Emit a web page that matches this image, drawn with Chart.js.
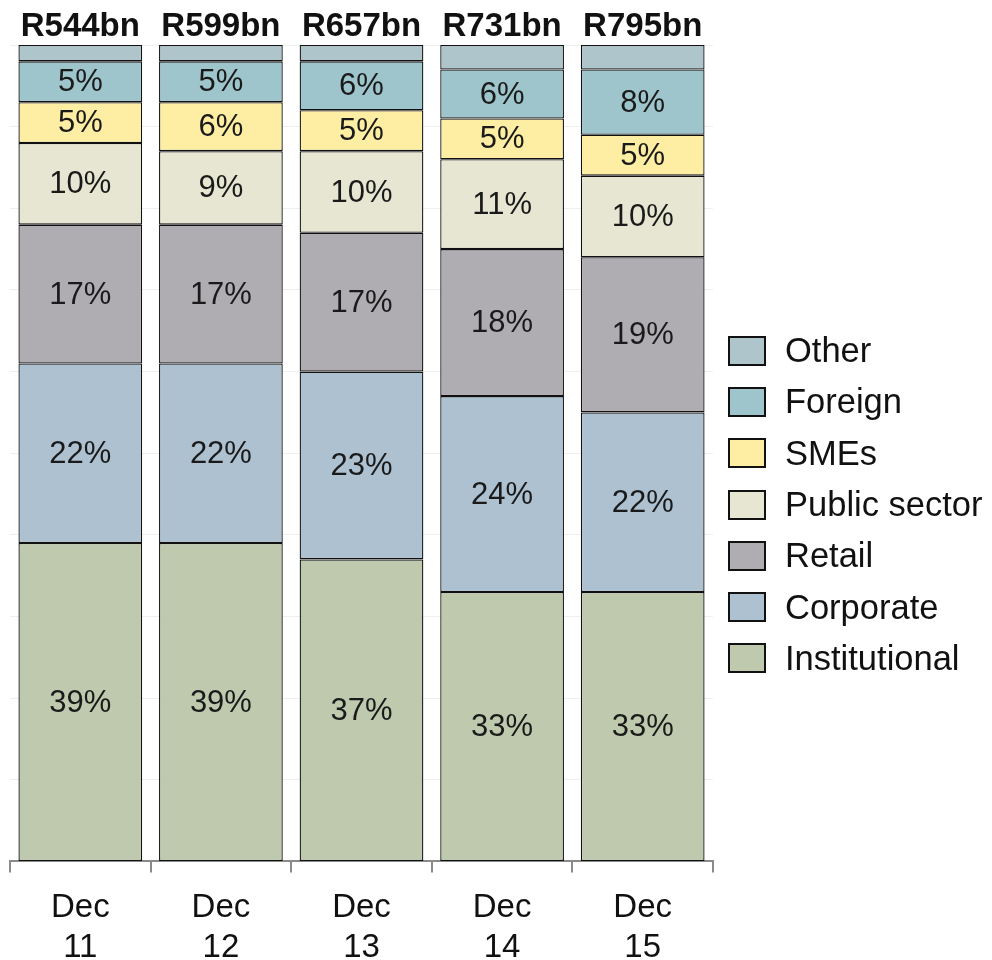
<!DOCTYPE html>
<html>
<head>
<meta charset="utf-8">
<script src="https://cdn.jsdelivr.net/npm/chart.js@4/dist/chart.umd.min.js"></script>
<style>
  html, body { margin: 0; padding: 0; background: #fff; }
  #wrap { position: relative; width: 992px; height: 960px; overflow: hidden; }
  #legend { position: absolute; left: 728px; top: 325px; font-family: "Liberation Sans", Arial, sans-serif; font-size: 34.5px; color: #111; }
  .item { display: flex; align-items: center; height: 51.3px; }
  .box { width: 34px; height: 26px; border: 2px solid #111; margin-right: 19px; }
</style>
</head>
<body>
<div id="wrap">
  <canvas id="c" width="992" height="960"></canvas>
  <div id="legend"></div>
</div>
<script>
const categories = [["Dec", "11"], ["Dec", "12"], ["Dec", "13"], ["Dec", "14"], ["Dec", "15"]];
const totals = ["R544bn", "R599bn", "R657bn", "R731bn", "R795bn"];
const institutional = [39, 39, 37, 33, 33];
const corporate = [22, 22, 23, 24, 22];
const retail = [17, 17, 17, 18, 19];
const publicSector = [10, 9, 10, 11, 10];
const smes = [5, 6, 5, 5, 5];
const foreign = [5, 5, 6, 6, 8];
const other = [2, 2, 2, 3, 3];

const seriesNames = ["Institutional", "Corporate", "Retail", "Public sector", "SMEs", "Foreign", "Other"];
const seriesData = [institutional, corporate, retail, publicSector, smes, foreign, other];
const seriesColors = ["#bfc9ae", "#adc1d0", "#afacb2", "#e6e6d2", "#fdeea4", "#9ec5cc", "#adc5cb"];
const labelled = [true, true, true, true, true, true, false];

const FONT = '"Liberation Sans", Arial, Helvetica, sans-serif';

const datasets = seriesNames.map((n, i) => ({
  label: n,
  data: seriesData[i],
  backgroundColor: seriesColors[i],
  borderColor: "#111",
  borderWidth: 1.3,
  borderSkipped: false,
  barPercentage: 0.88,
  categoryPercentage: 1.0,
  xAxisID: "x",
  showValue: labelled[i]
}));

const valueLabels = {
  id: "valueLabels",
  afterDatasetsDraw(chart) {
    const ctx = chart.ctx;
    ctx.save();
    ctx.font = "31px " + FONT;
    ctx.fillStyle = "#1a1a1a";
    ctx.textAlign = "center";
    ctx.textBaseline = "middle";
    chart.data.datasets.forEach((ds, di) => {
      if (!ds.showValue) return;
      const meta = chart.getDatasetMeta(di);
      meta.data.forEach((el, j) => {
        const y = (el.y + el.base) / 2;
        ctx.fillText(ds.data[j] + "%", el.x, y + 1);
      });
    });
    ctx.restore();
  }
};

new Chart(document.getElementById("c"), {
  type: "bar",
  data: { labels: categories, datasets },
  plugins: [valueLabels],
  options: {
    responsive: false,
    animation: false,
    layout: { padding: { left: 10, right: 279, top: 8, bottom: -23 } },
    plugins: { legend: { display: false }, tooltip: { enabled: false } },
    scales: {
      x: {
        stacked: true,
        offset: true,
        grid: { offset: true, drawOnChartArea: false, color: "#8a8a8a", lineWidth: 2, tickLength: 11 },
        border: { display: true, color: "#8a8a8a", width: 2 },
        ticks: { color: "#111", font: { family: FONT, size: 33, lineHeight: 1.22 }, padding: 15, maxRotation: 0, autoSkip: false }
      },
      x2: {
        type: "category",
        position: "top",
        labels: totals,
        offset: true,
        grid: { display: false, drawTicks: false },
        border: { display: false },
        ticks: { color: "#111", font: { family: FONT, size: 33, weight: "bold", lineHeight: 1.0 }, padding: 2, maxRotation: 0, autoSkip: false }
      },
      y: {
        stacked: true,
        min: 0,
        max: 100,
        ticks: { display: false, stepSize: 10 },
        grid: { color: "#efefef", lineWidth: 1, drawTicks: false },
        border: { display: false }
      }
    }
  }
});

const legend = document.getElementById("legend");
for (let i = seriesNames.length - 1; i >= 0; i--) {
  const it = document.createElement("div");
  it.className = "item";
  const b = document.createElement("div");
  b.className = "box";
  b.style.background = seriesColors[i];
  const t = document.createElement("span");
  t.textContent = seriesNames[i];
  it.appendChild(b); it.appendChild(t);
  legend.appendChild(it);
}
</script>
</body>
</html>
